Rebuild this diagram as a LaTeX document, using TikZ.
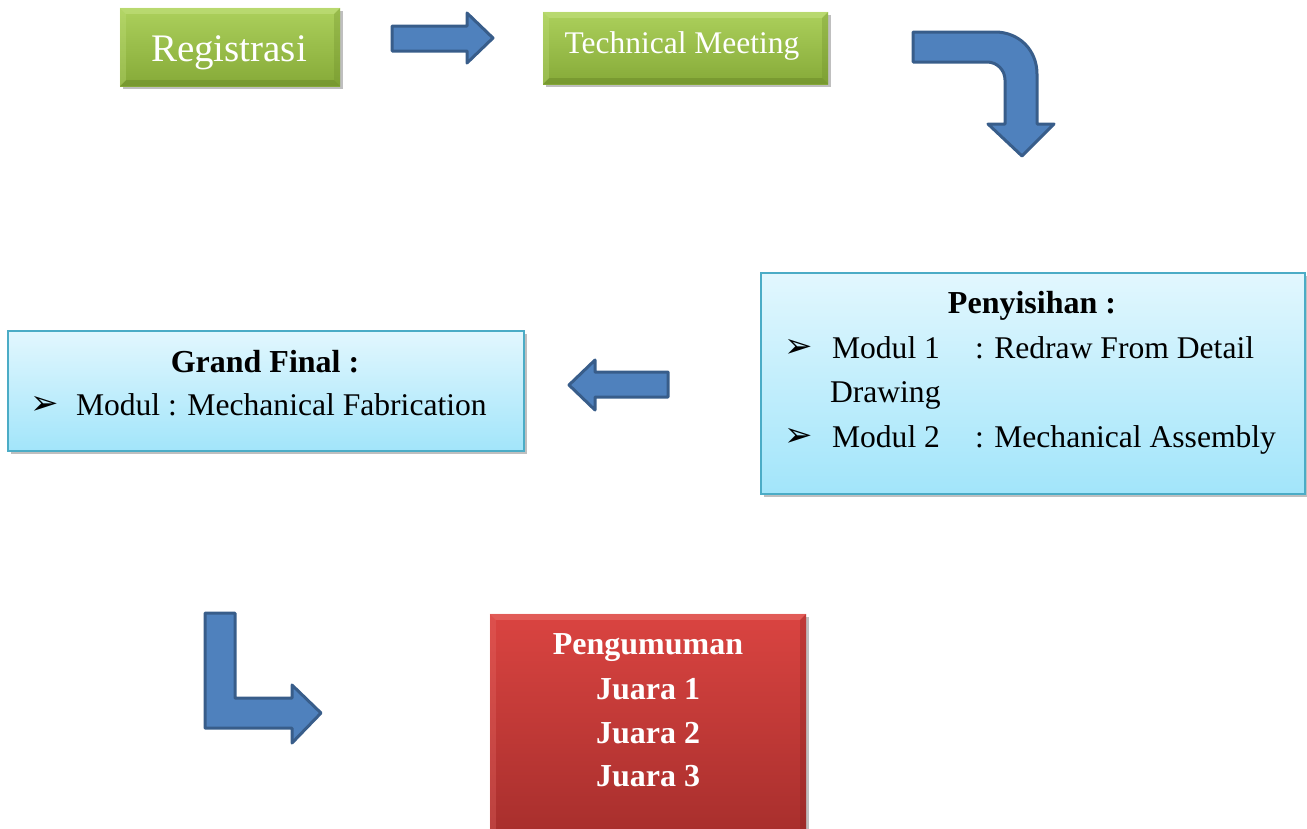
\documentclass[tikz,border=0pt]{standalone}
\usepackage{fontspec}
\setmainfont{Liberation Serif}
\newfontfamily\dejavu{DejaVu Sans}
\usetikzlibrary{shadows,calc}
\definecolor{gTop}{RGB}{172,208,92}
\definecolor{gBot}{RGB}{134,170,56}
\definecolor{gLight}{RGB}{196,226,128}
\definecolor{gDark}{RGB}{108,140,42}
\definecolor{rTop}{RGB}{218,68,65}
\definecolor{rBot}{RGB}{166,46,44}
\definecolor{rLight}{RGB}{232,110,106}
\definecolor{rDark}{RGB}{130,34,32}
\definecolor{bTop}{RGB}{226,247,254}
\definecolor{bBot}{RGB}{162,229,250}
\definecolor{bEdge}{RGB}{75,172,198}
\definecolor{aFill}{RGB}{79,129,189}
\definecolor{aEdge}{RGB}{56,93,138}
\begin{document}
\begin{tikzpicture}[x=1pt,y=-1pt,
  shad/.style={drop shadow={shadow xshift=2.5pt,shadow yshift=-3pt,opacity=.25,fill=black}},
  greenbox/.style={shad,top color=gTop,bottom color=gBot,draw=none,inner sep=0},
  redbox/.style={shad,top color=rTop,bottom color=rBot,draw=none,inner sep=0},
  bluebox/.style={shad,top color=bTop,bottom color=bBot,draw=bEdge,line width=1.6pt,inner sep=0},
  blockarrow/.style={fill=aFill,draw=aEdge,line width=3pt,line join=round},
  txt/.style={inner sep=0,outer sep=0},
  wtxt/.style={txt,text=white},
  body/.style={txt,font=\fontsize{31.6}{38}\selectfont},
  bodyb/.style={txt,font=\bfseries\fontsize{32}{38}\selectfont},
  bul/.style={txt,font=\dejavu\fontsize{34}{38}\selectfont}
]
\useasboundingbox (0,0) rectangle (1307,828);

% bevel helper
\newcommand{\bevelbox}[4]{%
  \fill[#2,opacity=.55] (#1.north west) -- (#1.north east) -- ($(#1.north east)+(-#4,#4)$) -- ($(#1.north west)+(#4,#4)$) -- cycle;
  \fill[#3,opacity=.55] (#1.south west) -- (#1.south east) -- ($(#1.south east)+(-#4,-#4)$) -- ($(#1.south west)+(#4,-#4)$) -- cycle;
  \fill[#2,opacity=.3] (#1.north west) -- (#1.south west) -- ($(#1.south west)+(#4,-#4)$) -- ($(#1.north west)+(#4,#4)$) -- cycle;
  \fill[#3,opacity=.3] (#1.north east) -- (#1.south east) -- ($(#1.south east)+(-#4,-#4)$) -- ($(#1.north east)+(-#4,#4)$) -- cycle;
}

% Registrasi
\node[greenbox,minimum width=220pt,minimum height=78pt] (reg) at (230,47) {};
\bevelbox{reg}{gLight}{gDark}{6}
\node[wtxt,font=\fontsize{39}{44}\selectfont,anchor=base] (regt) at (229,61) {Registrasi};

% Technical Meeting
\node[greenbox,minimum width=285pt,minimum height=72pt] (tm) at (685.5,48) {};
\bevelbox{tm}{gLight}{gDark}{6}
\node[wtxt,font=\fontsize{31.5}{36}\selectfont,anchor=base] (tmt) at (682,53) {Technical Meeting};

% arrow Registrasi -> Technical Meeting
\draw[blockarrow] (392,26) -- (467,26) -- (467,13) -- (493,38) -- (467,63) -- (467,51) -- (392,51) -- cycle;

% bent arrow
\draw[blockarrow] (913,32) -- (995,32) .. controls (1019,32) and (1037,50) .. (1037,74)
  -- (1037,124) -- (1054,124) -- (1022,156) -- (988,124) -- (1005,124) -- (1005,80)
  .. controls (1005,70) and (997,62) .. (987,62) -- (913,62) -- cycle;

% Penyisihan
\node[bluebox,minimum width=544pt,minimum height=221pt] (pen) at (1033,383.5) {};
\node[bodyb,anchor=base] (pent) at (1032,313) {Penyisihan :};
\node[bul,anchor=base west] (pb1) at (784,357) {➢};
\node[body,anchor=base west] (pm1) at (832,358) {Modul 1};
\node[body,anchor=base west] (pr1) at (975,358) {: Redraw From Detail};
\node[body,anchor=base west] (pd1) at (830,402) {Drawing};
\node[bul,anchor=base west] (pb2) at (784,446) {➢};
\node[body,anchor=base west] (pm2) at (832,447) {Modul 2};
\node[body,anchor=base west] (pr2) at (975,447) {: Mechanical Assembly};

% arrow Penyisihan -> Grand Final
\draw[blockarrow] (668,372) -- (595,372) -- (595,360) -- (569,385) -- (595,410) -- (595,397) -- (668,397) -- cycle;

% Grand Final
\node[bluebox,minimum width=516pt,minimum height=120pt] (gf) at (266,391) {};
\node[bodyb,anchor=base] (gft) at (265,372) {Grand Final :};
\node[bul,anchor=base west] (gb1) at (30,414) {➢};
\node[body,anchor=base west] (gm1) at (76,415) {Modul : Mechanical Fabrication};

% L arrow
\draw[blockarrow] (205,613) -- (235,613) -- (235,698) -- (292,698) -- (292,685) -- (321,713)
  -- (292,743) -- (292,728) -- (205,728) -- cycle;

% Pengumuman
\node[redbox,minimum width=316pt,minimum height=228pt] (pg) at (648,728) {};
\bevelbox{pg}{rLight}{rDark}{6}
\node[wtxt,font=\bfseries\fontsize{32}{38}\selectfont,anchor=base] (pg1) at (648,654) {Pengumuman};
\node[wtxt,font=\bfseries\fontsize{32}{38}\selectfont,anchor=base] (pg2) at (648,699) {Juara 1};
\node[wtxt,font=\bfseries\fontsize{32}{38}\selectfont,anchor=base] (pg3) at (648,743) {Juara 2};
\node[wtxt,font=\bfseries\fontsize{32}{38}\selectfont,anchor=base] (pg4) at (648,786) {Juara 3};
\end{tikzpicture}
\end{document}
